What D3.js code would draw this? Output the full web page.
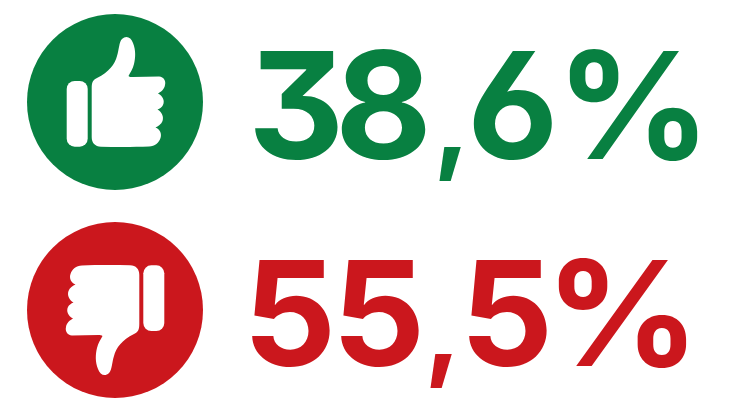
<!DOCTYPE html>
<html><head><meta charset="utf-8"><script src="https://cdn.jsdelivr.net/npm/d3@7"></script>
<style>html,body{margin:0;padding:0;background:#fff}svg{display:block}</style></head><body>
<div id="c"></div>
<script>
const labels = ["38,6%","55,5%"];
const values = [38.6,55.5];
const colors = ["#088041","#cb171d"];
const kinds = ["up","down"];
const W=731,H=401;
const y=d3.scalePoint().domain(kinds).range([102,310]);
const svg=d3.select("#c").append("svg").attr("width",W).attr("height",H);
const thumb="M-23.3,-14 C-23.3,-20 -22,-22 -18,-24 C-6,-30 0,-38 2,-46 C4,-52 4,-60 7,-63 C11,-67 16,-65 18,-59 C21,-52 20.5,-44 19,-38 C18,-33 15,-29 13.5,-26 C14,-25 16,-25 18,-25 L44,-25.5 C49,-25 51,-21 50,-17 C49.5,-13 46,-10 43,-8.5 C48,-6 50,-1 48,3 C47,5 45,6.5 42.5,7.5 C47,10 49,15 47.5,19 C46.5,22 43,24.5 40.5,25.5 C45,27 47,32 45.5,36 C44,41 40,44 34,44.5 C20,45 2,45 -14,44.7 C-20,44.5 -23.3,41 -23.3,35 Z";
const g=svg.selectAll("g").data(kinds).join("g").attr("transform",d=>`translate(115,${y(d)})`);
g.append("circle").attr("r",88).attr("fill",(d,i)=>colors[i]);
const ic=g.append("g").attr("transform",d=>d==="up"?"translate(0,0)":"translate(1,0) rotate(180)");
ic.append("rect").attr("x",-48.3).attr("y",-21).attr("width",21).attr("height",65.7).attr("rx",8).attr("fill","#fff");
ic.append("path").attr("d",thumb).attr("fill","#fff");
const glyphX=[[248,335,433,467,556],[243,332,424,460,545]];
const pctLen=[155,155];
const txt=svg.selectAll("text").data(labels).join("text").attr("y",(d,i)=>i?365.5:158.5)
 .attr("font-family","Inter, Roboto, sans-serif").attr("font-weight",650).attr("font-size",(d,i)=>i?146:149)
 .style("font-feature-settings",'"cv09","cv03"')
 .attr("fill",(d,i)=>colors[i]);
txt.each(function(d,i){
  const t=d3.select(this);
  [...d].forEach((ch,j)=>{
    const s=t.append("tspan").attr("x",glyphX[i][j]).text(ch);
    if(ch===",") s.attr("font-size",112);
    if(ch==="%") s.attr("textLength",pctLen[i]).attr("lengthAdjust","spacingAndGlyphs");
  });
});
</script></body></html>
